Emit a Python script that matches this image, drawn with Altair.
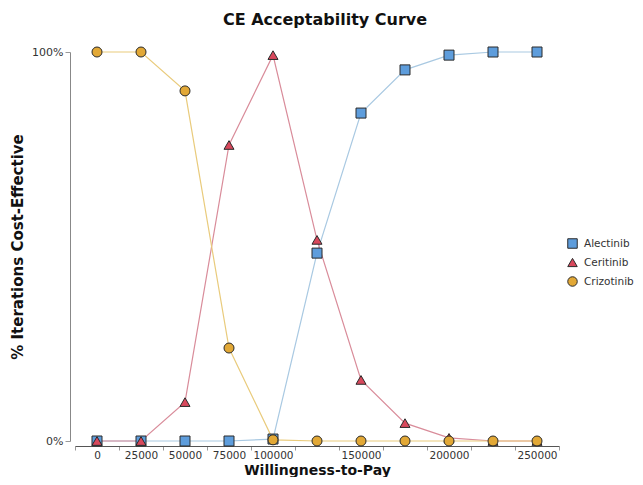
import altair as alt
import pandas as pd

wtp = [0, 25000, 50000, 75000, 100000, 125000, 150000, 175000, 200000, 225000, 250000]
alectinib = [0.0, 0.0, 0.0, 0.0, 0.005, 0.483, 0.843, 0.954, 0.992, 1.0, 1.0]
ceritinib = [0.0, 0.0, 0.10, 0.761, 0.992, 0.517, 0.157, 0.046, 0.008, 0.0, 0.0]
crizotinib = [1.0, 1.0, 0.90, 0.239, 0.003, 0.0, 0.0, 0.0, 0.0, 0.0, 0.0]
series = ["Alectinib", "Ceritinib", "Crizotinib"]
hidden_labels = [125000, 175000, 225000]

rows = []
for name, vals in zip(series, [alectinib, ceritinib, crizotinib]):
    for w, v in zip(wtp, vals):
        rows.append({"wtp": w, "value": v, "series": name})
df = pd.DataFrame(rows)

line_colors = ["#a9c9e2", "#d98c9a", "#e9cb7c"]
fill_colors = ["#5e9ddc", "#d8485c", "#e2a836"]
shapes = ["square", "triangle-up", "circle"]

label_expr = ("datum.value == null || indexof([" + ",".join(str(h) for h in hidden_labels)
              + "], datum.value) >= 0 ? '' : '' + datum.value")

x = alt.X(
    "wtp:O",
    scale=alt.Scale(domain=wtp, paddingInner=0, paddingOuter=0),
    axis=alt.Axis(
        title="Willingness-to-Pay",
        labelAngle=0,
        labelExpr=label_expr,
        labelOverlap=False,
        labelFontSize=10.5,
        tickBand="extent",
        offset=5,
        domainColor="#555555",
        tickColor="#999999",
        tickSize=4,
        labelPadding=0,
        titleY=28,
        titleFontSize=14,
        titleBaseline="alphabetic",
    ),
)
y = alt.Y(
    "value:Q",
    scale=alt.Scale(domain=[0, 1], nice=False),
    axis=alt.Axis(
        title="% Iterations Cost-Effective",
        values=[0, 1],
        format=".0%",
        offset=5,
        domainColor="#888888",
        tickColor="#999999",
        tickSize=5,
        grid=False,
        titlePadding=6,
    ),
)

layers = []
for name, col in zip(series, line_colors):
    layers.append(
        alt.Chart(df).transform_filter(alt.datum.series == name)
        .mark_line(strokeWidth=1.2, color=col)
        .encode(x=x, y=y)
    )

points = alt.Chart(df).mark_point(filled=True, size=100, stroke="#2a2a2a", strokeWidth=1, opacity=1).encode(
    x=x,
    y=y,
    fill=alt.Fill(
        "series:N",
        scale=alt.Scale(domain=series, range=fill_colors),
        legend=alt.Legend(title=None, orient="none", legendX=492, legendY=186,
                          symbolStrokeColor="#2a2a2a", symbolStrokeWidth=1, symbolSize=90,
                          labelFontSize=10.5, labelColor="#333333", rowPadding=5, labelOffset=6),
    ),
    shape=alt.Shape("series:N", scale=alt.Scale(domain=series, range=shapes)),
)
layers.append(points)

chart = (
    alt.layer(*layers)
    .properties(
        width=484,
        height=389,
        title=alt.Title("CE Acceptability Curve", fontSize=16, fontWeight="bold", font="DejaVu Sans",
                        color="#111111", anchor="middle", offset=17, dx=8),
        autosize=alt.AutoSizeParams(type="none"),
        padding={"left": 67, "top": 44, "right": 76, "bottom": 36},
    )
    .configure_view(stroke=None)
    .configure_axis(
        labelFont="DejaVu Sans",
        labelFontSize=11,
        labelColor="#333333",
        titleFont="DejaVu Sans",
        titleFontSize=15,
        titleFontWeight="bold",
        titleColor="#111111",
    )
    .configure_legend(labelFont="DejaVu Sans")
)

chart.save("out.html", embed_options={"renderer": "svg", "actions": False})
